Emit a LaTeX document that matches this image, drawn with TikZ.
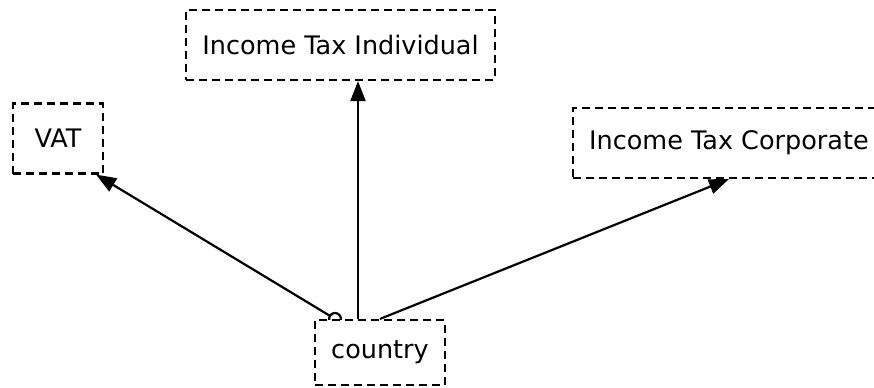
\documentclass[tikz,border=0pt]{standalone}
\usepackage{fontspec}
\setmainfont{DejaVu Sans}
\usetikzlibrary{arrows.meta}
\usetikzlibrary{backgrounds}
\usetikzlibrary{positioning}

\begin{document}
\begin{tikzpicture}[x=0.5pt, y=-0.5pt,
        box/.style={draw, dashed, dash pattern=on 4pt off 2.5pt, line width=1.1pt, fill=white,
            inner xsep=8pt, minimum height=35pt, font=\fontsize{12.75}{14}\selectfont},
        link/.style={line width=1.1pt, -{Triangle[length=10pt,width=7.5pt]}}]
            \useasboundingbox (0,0) rectangle (874,387);
            \node[box] (indiv) at (340.5,45) {Income Tax Individual};
            \node[box, minimum width=45pt] (vat) at (58,138.5) {VAT};
            \node[box, anchor=west] (corp) at (572,143) {Income Tax Corporate};
            \node[box, minimum height=32.5pt] (country) at (380,352.5) {country};
            \coordinate (c1) at ([xshift=-22.5pt]country.north);
            \coordinate (c2) at ([xshift=-11pt]country.north);
            \begin{pgfonlayer}{background}
                \draw[link, {Circle[open,length=7pt]}-{Triangle[length=10pt,width=7.5pt]}, shorten <=-3.5pt] (c1) -- ([xshift=-4pt]vat.south east);
                \draw[link] (c2) -- (c2 |- indiv.south);
                \draw[link] (country.north) -- (corp.south);
            \end{pgfonlayer}
        \end{tikzpicture}
\end{document}
